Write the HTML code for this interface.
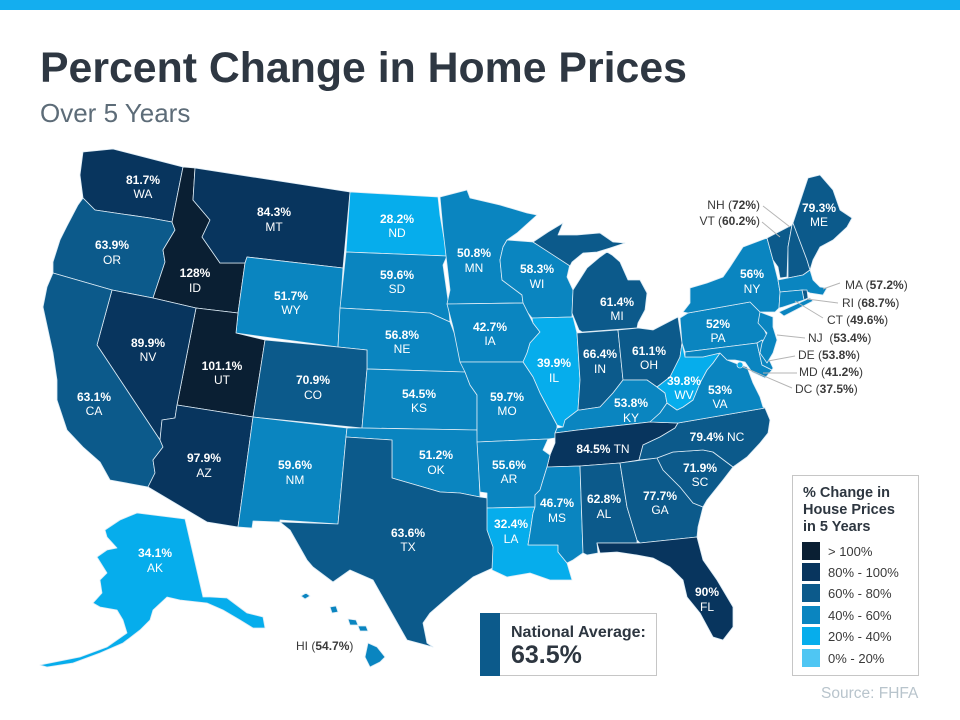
<!DOCTYPE html>
<html><head><meta charset="utf-8"><style>
html,body{margin:0;padding:0;background:#fff;}
svg{display:block;font-family:"Liberation Sans",Arial,sans-serif;}
.s polygon{stroke:#dcebf5;stroke-width:0.8;stroke-linejoin:round;}
.c0{fill:#0a1f33}.c1{fill:#08355e}.c2{fill:#0c5a8b}.c3{fill:#0a85c0}.c4{fill:#06adec}.c5{fill:#4fc6f3}
.p{fill:#fff;font-weight:bold;font-size:12px;text-anchor:middle}
.a{fill:#fff;font-size:12px;text-anchor:middle}
.cl{fill:#3a3a3a;font-size:12px}
.cl tspan.b{font-weight:bold}
.ln{stroke:#b5b5b5;stroke-width:1;fill:none}
</style></head><body>
<svg width="960" height="720" viewBox="0 0 960 720" xmlns="http://www.w3.org/2000/svg">
<rect x="0" y="0" width="960" height="720" fill="#fff"/>
<rect x="0" y="0" width="960" height="10" fill="#14aeef"/>
<text x="40" y="82" font-size="42.8" font-weight="bold" fill="#2e3742">Percent Change in Home Prices</text>
<text x="40" y="122" font-size="26" fill="#5d6c78">Over 5 Years</text>

<g class="s">
<polygon class="c1" points="83,152 113,149 183,167 172,222 150,218 122,214 95,210 83,198 80,175"/>
<polygon class="c2" points="83,198 95,210 122,214 150,218 172,222 175,230 163,250 165,262 153,298 112,290 53,273 53,262 60,240 67,226 78,205"/>
<polygon class="c0" points="183,167 195,168 193,200 210,220 202,237 220,263 245,263 238,313 196,308 153,298 165,262 163,250 175,230 172,222"/>
<polygon class="c1" points="195,168 350,192 343,268 247,257 245,263 220,263 202,237 210,220 193,200"/>
<polygon class="c3" points="247,257 343,268 338,347 236,333 238,313 245,263"/>
<polygon class="c4" points="350,192 438,197 440,215 447,256 346,252"/>
<polygon class="c3" points="346,252 447,256 443,265 448,300 450,322 430,313 340,308"/>
<polygon class="c3" points="340,308 430,313 450,322 455,335 463,360 465,372 367,369 367,350 338,347"/>
<polygon class="c0" points="196,308 238,313 236,333 265,340 253,417 177,405"/>
<polygon class="c2" points="265,340 338,347 367,350 367,369 362,428 253,417"/>
<polygon class="c1" points="112,290 153,298 196,308 177,405 175,418 162,420 160,440 97,345"/>
<polygon class="c2" points="53,273 112,290 97,345 160,440 163,447 153,460 155,473 148,487 110,480 100,462 83,447 67,430 57,400 57,380 53,353 43,307 47,287"/>
<polygon class="c1" points="177,405 253,417 238,527 207,522 148,487 155,473 153,460 163,447 160,440 162,420 175,418"/>
<polygon class="c3" points="253,417 347,428 346,437 338,524 280,520 280,522 253,521 252,528 238,527"/>
<polygon class="c3" points="367,369 465,372 470,385 477,395 477,430 362,428"/>
<polygon class="c3" points="347,428 362,428 477,430 480,497 460,493 440,492 423,487 392,478 392,440 346,437"/>
<polygon class="c2" points="346,437 392,440 392,478 423,487 440,492 460,493 480,497 487,498 493,540 495,567 473,577 453,593 430,613 423,623 427,643 433,647 407,640 390,610 373,580 350,570 333,582 313,567 307,560 290,530 280,522 338,524"/>
<polygon class="c3" points="440,197 467,190 470,198 500,205 527,213 537,215 517,233 507,240 503,247 500,260 502,280 522,295 523,303 447,304 450,290 443,230"/>
<polygon class="c3" points="507,240 533,242 570,264 567,277 573,290 572,317 532,318 528,313 523,303 522,295 502,280 500,260 503,247"/>
<polygon class="c2" points="533,242 548,232 563,223 558,235 577,235 600,233 613,242 625,243 610,248 597,252 583,253 572,262 570,266"/>
<polygon class="c2" points="600,257 607,252 612,255 620,262 628,280 640,280 647,293 645,310 638,323 637,328 582,332 579,330 572,313 573,290 587,268"/>
<polygon class="c3" points="447,304 523,303 528,313 533,323 540,332 530,343 527,353 523,362 460,362 453,327"/>
<polygon class="c4" points="532,318 573,317 577,333 580,380 578,410 563,427 557,425 540,393 533,377 523,362 527,353 530,343 540,332 533,323"/>
<polygon class="c2" points="577,333 618,330 623,380 613,393 600,407 580,410 578,410 580,380"/>
<polygon class="c2" points="618,330 638,328 653,330 678,317 682,343 680,357 670,377 657,387 647,380 623,380"/>
<polygon class="c3" points="557,428 563,427 565,420 578,410 580,410 600,407 613,393 623,380 647,380 657,387 665,393 667,403 660,413 650,422 578,430 555,433"/>
<polygon class="c3" points="460,362 523,362 533,377 540,393 557,425 557,428 555,433 555,438 548,439 477,442 477,430 477,395 470,385 465,372"/>
<polygon class="c1" points="555,433 578,430 650,422 678,423 675,428 660,437 643,445 639,460 620,463 580,466 547,467 550,455 555,443"/>
<polygon class="c3" points="477,442 548,439 543,450 550,455 547,467 543,480 540,490 535,495 535,507 487,508 487,493 480,492"/>
<polygon class="c4" points="487,508 535,507 533,513 530,533 528,545 558,545 558,552 567,563 572,580 550,580 530,573 507,577 492,570 493,547 487,530"/>
<polygon class="c3" points="547,467 580,466 583,553 573,560 567,563 558,552 558,545 528,545 530,533 533,513 535,507 535,495 540,490 543,480"/>
<polygon class="c2" points="580,466 620,463 627,507 637,540 637,543 597,543 598,553 587,555 583,553"/>
<polygon class="c2" points="620,463 657,458 663,470 680,487 693,503 703,507 698,527 697,537 640,543 637,540 627,507"/>
<polygon class="c1" points="597,543 637,543 640,543 697,537 703,560 717,580 733,607 733,627 723,640 713,637 700,613 687,597 683,580 670,567 653,558 637,555 617,552 600,553"/>
<polygon class="c2" points="657,458 673,452 703,450 713,452 733,467 723,480 707,500 703,507 693,503 680,487 663,470"/>
<polygon class="c2" points="678,423 765,408 770,420 768,433 760,443 747,457 733,467 713,452 703,450 673,452 657,458 639,460 643,445 660,437 675,428"/>
<polygon class="c3" points="720,353 727,360 740,365 747,367 753,383 760,397 763,407 765,408 678,423 650,422 660,413 667,403 677,410 683,407 693,400 700,383 707,370 713,363"/>
<polygon class="c4" points="682,343 685,357 703,357 720,353 713,363 707,370 700,383 693,400 683,407 677,410 667,403 665,393 657,387 670,377 680,357"/>
<polygon class="c3" points="680,318 688,313 750,302 760,312 763,327 768,338 757,343 685,352 682,343"/>
<polygon class="c3" points="685,352 757,343 762,365 772,370 765,378 752,372 745,362 735,360 727,360 720,353 703,357 685,357"/>
<polygon class="c3" points="757,343 762,340 766,353 773,368 772,370 762,365"/>
<polygon class="c3" points="760,312 773,317 773,327 777,340 773,353 767,363 760,353 762,343 767,333 758,323"/>
<polygon class="c3" points="683,312 690,303 690,288 707,283 723,277 730,267 743,247 767,238 773,260 778,280 780,292 779,308 775,312 760,312 750,302 688,313"/>
<polygon class="c3" points="779,312 810,298 813,301 784,316"/>
<polygon class="c2" points="767,238 792,225 788,247 787,277 780,278 778,267 773,260"/>
<polygon class="c2" points="792,225 793,223 807,260 810,270 803,275 788,278 788,247"/>
<polygon class="c2" points="793,223 803,193 808,178 820,175 833,190 840,210 852,218 847,227 833,240 820,247 813,260 810,270 807,260"/>
<polygon class="c3" points="778,280 788,278 803,275 810,270 813,280 820,287 827,288 823,295 810,293 803,290 780,292"/>
<polygon class="c2" points="802,290 807,290 808,298 804,300"/>
<polygon class="c3" points="780,292 802,290 804,300 783,307 779,308"/>
<polygon class="c4" points="137,513 185,519 203,597 210,597 227,598 247,613 263,617 265,628 253,628 240,620 223,610 207,603 180,600 167,597 153,610 150,620 140,630 123,643 100,653 73,663 47,667 40,665 80,657 107,647 127,633 123,620 117,610 100,607 93,603 102,593 100,580 107,573 97,557 107,550 117,548 107,537 105,530 120,520"/>
<polygon class="c3" points="301,596 306,593 310,596 305,599"/>
<polygon class="c3" points="330,607 336,606 338,612 332,613"/>
<polygon class="c3" points="348,619 356,620 358,625 350,625"/>
<polygon class="c3" points="358,626 366,626 368,631 360,631"/>
<polygon class="c3" points="368,643 377,647 385,657 380,662 370,667 365,657"/>
</g>
<circle cx="740" cy="365" r="3" fill="#06adec" stroke="#dcebf5" stroke-width="0.8"/>

<text class="p" x="143" y="184">81.7%</text><text class="a" x="143" y="198">WA</text>
<text class="p" x="274" y="216">84.3%</text><text class="a" x="274" y="231">MT</text>
<text class="p" x="397" y="223">28.2%</text><text class="a" x="397" y="237">ND</text>
<text class="p" x="112" y="249">63.9%</text><text class="a" x="112" y="264">OR</text>
<text class="p" x="195" y="277">128%</text><text class="a" x="195" y="292">ID</text>
<text class="p" x="397" y="279">59.6%</text><text class="a" x="397" y="293">SD</text>
<text class="p" x="291" y="300">51.7%</text><text class="a" x="291" y="314">WY</text>
<text class="p" x="402" y="339">56.8%</text><text class="a" x="402" y="353">NE</text>
<text class="p" x="148" y="347">89.9%</text><text class="a" x="148" y="361">NV</text>
<text class="p" x="222" y="370">101.1%</text><text class="a" x="222" y="384">UT</text>
<text class="p" x="313" y="384">70.9%</text><text class="a" x="313" y="399">CO</text>
<text class="p" x="94" y="401">63.1%</text><text class="a" x="94" y="415">CA</text>
<text class="p" x="419" y="398">54.5%</text><text class="a" x="419" y="412">KS</text>
<text class="p" x="204" y="462">97.9%</text><text class="a" x="204" y="477">AZ</text>
<text class="p" x="295" y="469">59.6%</text><text class="a" x="295" y="484">NM</text>
<text class="p" x="436" y="459">51.2%</text><text class="a" x="436" y="474">OK</text>
<text class="p" x="408" y="537">63.6%</text><text class="a" x="408" y="551">TX</text>
<text class="p" x="155" y="557">34.1%</text><text class="a" x="155" y="572">AK</text>
<text class="p" x="474" y="257">50.8%</text><text class="a" x="474" y="272">MN</text>
<text class="p" x="537" y="273">58.3%</text><text class="a" x="537" y="288">WI</text>
<text class="p" x="490" y="331">42.7%</text><text class="a" x="490" y="345">IA</text>
<text class="p" x="554" y="367">39.9%</text><text class="a" x="554" y="382">IL</text>
<text class="p" x="507" y="401">59.7%</text><text class="a" x="507" y="415">MO</text>
<text class="p" x="617" y="306">61.4%</text><text class="a" x="617" y="320">MI</text>
<text class="p" x="600" y="358">66.4%</text><text class="a" x="600" y="373">IN</text>
<text class="p" x="649" y="355">61.1%</text><text class="a" x="649" y="369">OH</text>
<text class="p" x="631" y="407">53.8%</text><text class="a" x="631" y="422">KY</text>
<text class="p" x="684" y="385">39.8%</text><text class="a" x="684" y="399">WV</text>
<text class="p" x="720" y="394">53%</text><text class="a" x="720" y="408">VA</text>
<text class="p" x="718" y="328">52%</text><text class="a" x="718" y="342">PA</text>
<text class="p" x="752" y="278">56%</text><text class="a" x="752" y="293">NY</text>
<text class="p" x="819" y="212">79.3%</text><text class="a" x="819" y="226">ME</text>
<text x="603" y="453" fill="#fff" font-size="12" text-anchor="middle"><tspan font-weight="bold">84.5%</tspan> TN</text>
<text x="717" y="441" fill="#fff" font-size="12" text-anchor="middle"><tspan font-weight="bold">79.4%</tspan> NC</text>
<text class="p" x="509" y="469">55.6%</text><text class="a" x="509" y="483">AR</text>
<text class="p" x="700" y="472">71.9%</text><text class="a" x="700" y="486">SC</text>
<text class="p" x="557" y="507">46.7%</text><text class="a" x="557" y="522">MS</text>
<text class="p" x="604" y="503">62.8%</text><text class="a" x="604" y="518">AL</text>
<text class="p" x="660" y="500">77.7%</text><text class="a" x="660" y="514">GA</text>
<text class="p" x="511" y="528">32.4%</text><text class="a" x="511" y="543">LA</text>
<text class="p" x="707" y="596">90%</text><text class="a" x="707" y="611">FL</text>

<line class="ln" x1="763" y1="206" x2="790" y2="227"/>
<line class="ln" x1="762" y1="222" x2="780" y2="237"/>
<line class="ln" x1="840" y1="283" x2="823" y2="289"/>
<line class="ln" x1="838" y1="303" x2="807" y2="299"/>
<line class="ln" x1="823" y1="318" x2="795" y2="301"/>
<line class="ln" x1="805" y1="338" x2="777" y2="335"/>
<line class="ln" x1="795" y1="356" x2="768" y2="361"/>
<line class="ln" x1="797" y1="373" x2="763" y2="373"/>
<line class="ln" x1="792" y1="388" x2="743" y2="367"/>
<text class="cl" x="760" y="209" text-anchor="end">NH (<tspan class="b">72%</tspan>)</text>
<text class="cl" x="760" y="225" text-anchor="end">VT (<tspan class="b">60.2%</tspan>)</text>
<text class="cl" x="845" y="289">MA (<tspan class="b">57.2%</tspan>)</text>
<text class="cl" x="842" y="307">RI (<tspan class="b">68.7%</tspan>)</text>
<text class="cl" x="827" y="324">CT (<tspan class="b">49.6%</tspan>)</text>
<text class="cl" x="808" y="342" xml:space="preserve">NJ  (<tspan class="b">53.4%</tspan>)</text>
<text class="cl" x="798" y="359">DE (<tspan class="b">53.8%</tspan>)</text>
<text class="cl" x="799" y="376">MD (<tspan class="b">41.2%</tspan>)</text>
<text class="cl" x="795" y="393">DC (<tspan class="b">37.5%</tspan>)</text>
<text class="cl" x="296" y="650">HI (<tspan class="b">54.7%</tspan>)</text>

<rect x="480.5" y="613.5" width="176" height="62" fill="#fff" stroke="#c6c6c6" stroke-width="1"/>
<rect x="480" y="613" width="20" height="63" fill="#0c5a8b"/>
<text x="511" y="637" font-size="16" font-weight="bold" fill="#2d3640">National Average:</text>
<text x="511" y="663" font-size="25" font-weight="bold" fill="#2d3640">63.5%</text>

<rect x="792.5" y="475.5" width="126" height="200" fill="#fff" stroke="#c6c6c6" stroke-width="1"/>
<text x="803" y="497" font-size="14.5" font-weight="bold" fill="#2d3640">% Change in</text>
<text x="803" y="514" font-size="14.5" font-weight="bold" fill="#2d3640">House Prices</text>
<text x="803" y="531" font-size="14.5" font-weight="bold" fill="#2d3640">in 5 Years</text>
<rect x="802" y="542" width="18" height="18" class="c0"/>
<rect x="802" y="563" width="18" height="18" class="c1"/>
<rect x="802" y="584" width="18" height="18" class="c2"/>
<rect x="802" y="606" width="18" height="18" class="c3"/>
<rect x="802" y="627" width="18" height="18" class="c4"/>
<rect x="802" y="649" width="18" height="18" class="c5"/>
<g font-size="13" fill="#3a3a3a">
<text x="828" y="556">&gt; 100%</text>
<text x="828" y="577">80% - 100%</text>
<text x="828" y="598">60% - 80%</text>
<text x="828" y="620">40% - 60%</text>
<text x="828" y="641">20% - 40%</text>
<text x="828" y="663">0% - 20%</text>
</g>
<text x="821" y="698" font-size="15.5" fill="#b8c4cc">Source: FHFA</text>
</svg>
</body></html>
